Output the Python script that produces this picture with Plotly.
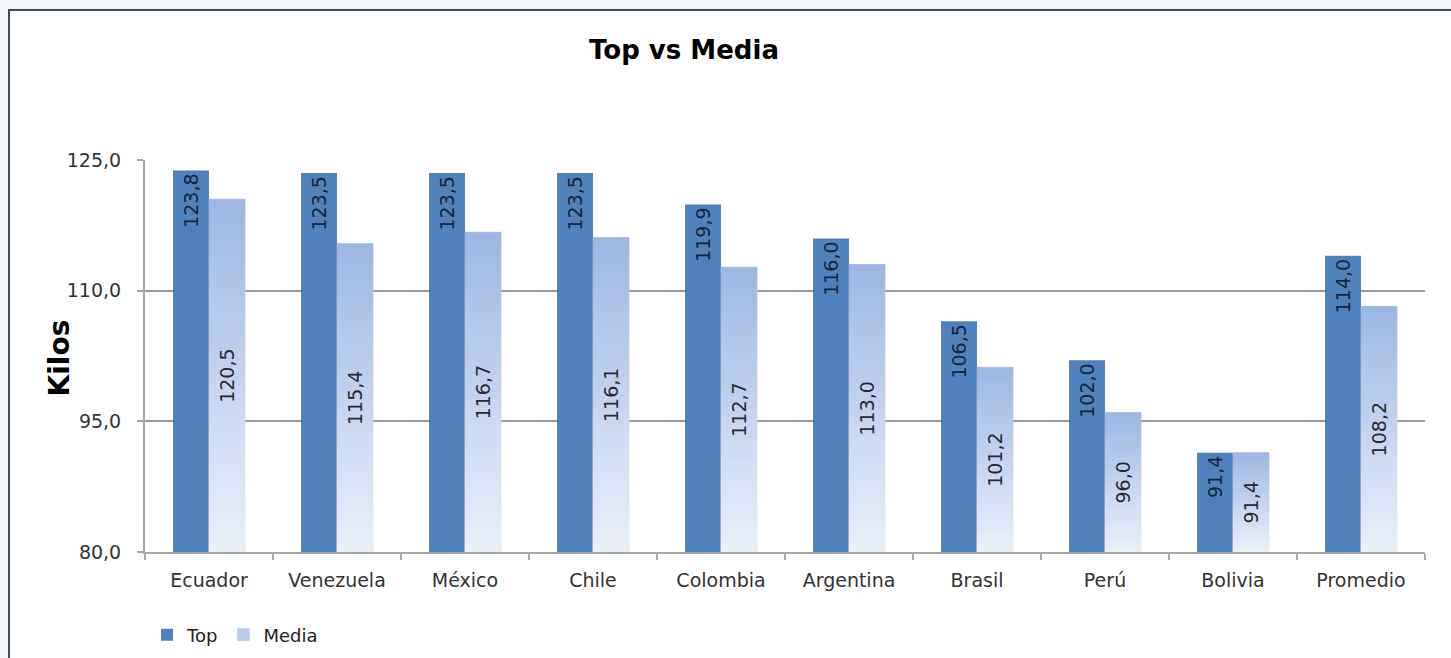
import plotly.graph_objects as go

categories = ["Ecuador", "Venezuela", "México", "Chile", "Colombia", "Argentina",
              "Brasil", "Perú", "Bolivia", "Promedio"]
top_values = [123.8, 123.5, 123.5, 123.5, 119.9, 116.0, 106.5, 102.0, 91.4, 114.0]
media_values = [120.5, 115.4, 116.7, 116.1, 112.7, 113.0, 101.2, 96.0, 91.4, 108.2]
y_ticks = [80, 95, 110, 125]
AXIS_MIN = 80.0

def fmt(v):
    return f"{v:.1f}".replace(".", ",")

def lerp_color(c1, c2, t):
    a = [int(c1[i:i + 2], 16) for i in (1, 3, 5)]
    b = [int(c2[i:i + 2], 16) for i in (1, 3, 5)]
    return "#" + "".join(f"{round(a[i] + (b[i] - a[i]) * t):02x}" for i in range(3))

TOP_COLOR = "#4f81bd"
GRAD_TOP = "#9db6e2"
GRAD_BOTTOM = "#ebf0f9"
FONT = "DejaVu Sans"

fig = go.Figure()

fig.add_trace(go.Bar(
    x=categories, y=[v - AXIS_MIN for v in top_values], base=AXIS_MIN,
    name="Top", offsetgroup="top", marker=dict(color=TOP_COLOR, line=dict(width=0)),
    text=[fmt(v) for v in top_values], textposition="inside", insidetextanchor="end",
    textangle=-90, textfont=dict(family=FONT, size=19, color="#15253a"),
    customdata=top_values, hovertemplate="%{x}: %{customdata:.1f}<extra>Top</extra>",
    legendrank=1,
))

N = 40
for k in range(N):
    t = (k + 0.5) / N  # 0 bottom -> 1 top
    col = lerp_color(GRAD_BOTTOM, GRAD_TOP, t)
    fig.add_trace(go.Bar(
        x=categories,
        y=[(m - AXIS_MIN) / N for m in media_values],
        base=[AXIS_MIN + k * (m - AXIS_MIN) / N for m in media_values],
        offsetgroup="media", name="Media", legendgroup="media",
        showlegend=(k == N // 2 + 4), legendrank=2,
        marker=dict(color=col, line=dict(width=0.8, color=col)),
        hoverinfo="skip",
    ))

fig.add_trace(go.Bar(
    x=categories, y=[m - AXIS_MIN for m in media_values], base=AXIS_MIN,
    offsetgroup="media", name="Media", legendgroup="media", showlegend=False,
    marker=dict(color="rgba(0,0,0,0)", line=dict(width=0)),
    text=[fmt(v) for v in media_values], textposition="inside", insidetextanchor="middle",
    textangle=-90, textfont=dict(family=FONT, size=19, color="#2a2a2a"),
    customdata=media_values, hovertemplate="%{x}: %{customdata:.1f}<extra>Media</extra>",
))

L, R, T, B = 145, 26, 160, 106
W, H = 1451, 658
pw, ph = W - L - R, H - T - B

def px_x(px):
    return (px - L) / pw

def px_y(py):
    return (H - B - py) / ph

fig.add_shape(type="rect", xref="paper", yref="paper", layer="below",
              x0=px_x(9), x1=px_x(1470), y0=px_y(680), y1=px_y(10),
              fillcolor="white", line=dict(color="#4a4a4a", width=2))

fig.add_annotation(text="<b>Kilos</b>", xref="paper", yref="paper",
                   x=px_x(40), y=px_y(358), textangle=-90, showarrow=False,
                   font=dict(family=FONT, size=28, color="#000000"))

fig.update_layout(
    width=W, height=H,
    margin=dict(l=L, r=R, t=T, b=B, autoexpand=False),
    paper_bgcolor="#f2f7fb", plot_bgcolor="white",
    barmode="group", bargap=0.4375, bargroupgap=0,
    separators=",.",
    title=dict(text="<b>Top vs Media</b>", x=684 / W, xref="container", xanchor="center",
               y=1 - 50 / H, yref="container", yanchor="middle",
               font=dict(family=FONT, size=26, color="#000000")),
    legend=dict(orientation="h", x=px_x(147), y=px_y(635), xanchor="left", yanchor="middle",
                font=dict(family=FONT, size=18, color="#222222"), bgcolor="rgba(0,0,0,0)",
                itemwidth=30, tracegroupgap=0),
    showlegend=True,
    font=dict(family=FONT),
)

fig.update_yaxes(range=[AXIS_MIN, 125], tickvals=y_ticks, tickformat=".1f",
                 showgrid=True, gridcolor="#9a9a9a", gridwidth=1.5,
                 showline=True, linecolor="#a8a8a8", linewidth=2,
                 ticks="outside", ticklen=6, tickwidth=2, tickcolor="#a8a8a8",
                 ticklabelstandoff=12, zeroline=False,
                 tickfont=dict(family=FONT, size=19, color="#333333"))
fig.update_xaxes(showline=True, linecolor="#a8a8a8", linewidth=2,
                 ticks="outside", tickson="boundaries", ticklen=6, tickwidth=2,
                 tickcolor="#a8a8a8", ticklabelstandoff=10,
                 tickfont=dict(family=FONT, size=19, color="#333333"))

fig.write_html("out.html", config={"displayModeBar": False},
               post_script="document.body.style.margin='0px';"
                           "document.body.style.background='#f2f7fb';")
